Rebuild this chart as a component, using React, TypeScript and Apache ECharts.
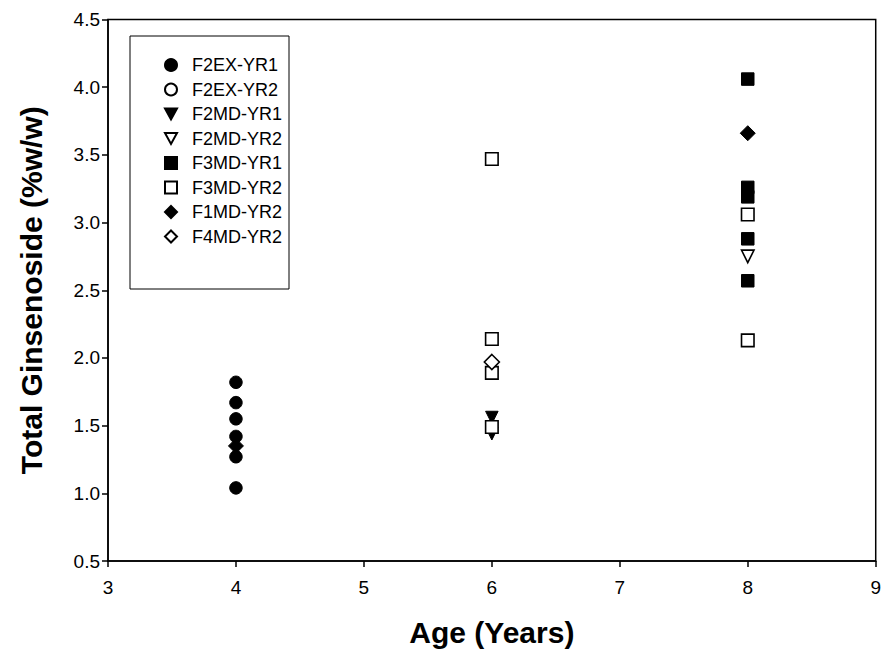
import React, { useEffect, useRef } from "react";
import * as echarts from "echarts";

const seriesNames = ["F2EX-YR1", "F2EX-YR2", "F2MD-YR1", "F2MD-YR2", "F3MD-YR1", "F3MD-YR2", "F1MD-YR2", "F4MD-YR2"];

const f2exYr1: [number, number][] = [[4, 1.82], [4, 1.67], [4, 1.55], [4, 1.42], [4, 1.27], [4, 1.04]];
const f2exYr2: [number, number][] = [];
const f2mdYr1: [number, number][] = [[6, 1.56], [6, 1.44]];
const f2mdYr2: [number, number][] = [[8, 2.75]];
const f3mdYr1: [number, number][] = [[8, 4.06], [8, 3.26], [8, 3.19], [8, 2.88], [8, 2.57]];
const f3mdYr2: [number, number][] = [[6, 3.47], [6, 2.14], [6, 1.89], [6, 1.49], [8, 3.06], [8, 2.13]];
const f1mdYr2: [number, number][] = [[4, 1.35], [8, 3.66]];
const f4mdYr2: [number, number][] = [[6, 1.97]];

const xTicks = [3, 4, 5, 6, 7, 8, 9];
const yTicks = [0.5, 1.0, 1.5, 2.0, 2.5, 3.0, 3.5, 4.0, 4.5];

const FONT = "'Liberation Sans', Arial, sans-serif";
const TRI_DOWN = "path://M0,0 L10,0 L5,9 Z";

export default function App() {
  const ref = useRef<HTMLDivElement>(null);
  useEffect(() => {
    if (!ref.current) return;
    const chart = echarts.init(ref.current, null, { renderer: "svg" });
    const filled = { color: "#000", borderColor: "#000", borderWidth: 1, opacity: 1 };
    const open = { color: "#fff", borderColor: "#000", borderWidth: 1.6, opacity: 1 };
    const mk = (name: string, data: [number, number][], symbol: string, size: number, style: any) => ({
      name,
      type: "scatter",
      data,
      symbol,
      symbolSize: size,
      itemStyle: style,
      emphasis: { disabled: true },
    });
    const legendIcon: Record<string, string> = {
      "F2EX-YR1": "circle",
      "F2EX-YR2": "circle",
      "F2MD-YR1": TRI_DOWN,
      "F2MD-YR2": TRI_DOWN,
      "F3MD-YR1": "rect",
      "F3MD-YR2": "rect",
      "F1MD-YR2": "diamond",
      "F4MD-YR2": "diamond",
    };
    chart.setOption({
      animation: false,
      backgroundColor: "#fff",
      grid: {
        left: 108,
        right: 7,
        top: 19.5,
        bottom: 97,
        show: true,
        borderColor: "#000",
        borderWidth: 1.5,
        backgroundColor: "transparent",
      },
      legend: {
        orient: "vertical",
        left: 130,
        top: 36,
        data: seriesNames.map((n) => ({ name: n, icon: legendIcon[n] })),
        backgroundColor: "#fff",
        borderColor: "#000",
        borderWidth: 1,
        padding: [20, 7, 43.5, 34],
        itemWidth: 12,
        itemHeight: 12,
        itemGap: 6.5,
        textStyle: { fontFamily: FONT, fontSize: 18, lineHeight: 18, color: "#000", padding: [0, 0, 0, 10] },
        selectedMode: false,
      },
      xAxis: {
        type: "value",
        min: xTicks[0],
        max: xTicks[xTicks.length - 1],
        interval: 1,
        name: "Age (Years)",
        nameLocation: "middle",
        nameGap: 56,
        nameTextStyle: { fontFamily: FONT, fontSize: 30, fontWeight: "bold", color: "#000" },
        axisLine: { lineStyle: { color: "#000", width: 1.5 } },
        axisTick: { show: true, inside: false, length: 6, lineStyle: { color: "#000", width: 1.5 } },
        axisLabel: { fontFamily: FONT, fontSize: 19, color: "#000", margin: 17 },
        splitLine: { show: false },
      },
      yAxis: {
        type: "value",
        min: yTicks[0],
        max: yTicks[yTicks.length - 1],
        interval: 0.5,
        name: "Total Ginsenoside (%w/w)",
        nameLocation: "middle",
        nameGap: 62,
        nameTextStyle: { fontFamily: FONT, fontSize: 30, fontWeight: "bold", color: "#000" },
        axisLine: { lineStyle: { color: "#000", width: 1.5 } },
        axisTick: { show: true, inside: false, length: 6, lineStyle: { color: "#000", width: 1.5 } },
        axisLabel: { fontFamily: FONT, fontSize: 19, color: "#000", margin: 8, formatter: (v: number) => v.toFixed(1) },
        splitLine: { show: false },
      },
      series: [
        mk("F2EX-YR1", f2exYr1, "circle", 12.5, filled),
        mk("F2EX-YR2", f2exYr2, "circle", 12.5, open),
        mk("F2MD-YR1", f2mdYr1, TRI_DOWN, 12.5, filled),
        mk("F2MD-YR2", f2mdYr2, TRI_DOWN, 12.5, open),
        mk("F3MD-YR1", f3mdYr1, "rect", 12.5, filled),
        mk("F3MD-YR2", f3mdYr2, "rect", 12.5, open),
        mk("F1MD-YR2", f1mdYr2, "diamond", 15, filled),
        mk("F4MD-YR2", f4mdYr2, "diamond", 15, open),
      ],
    });
    return () => chart.dispose();
  }, []);
  return <div ref={ref} style={{ width: 884, height: 658, position: "absolute", left: 0, top: 0 }} />;
}
